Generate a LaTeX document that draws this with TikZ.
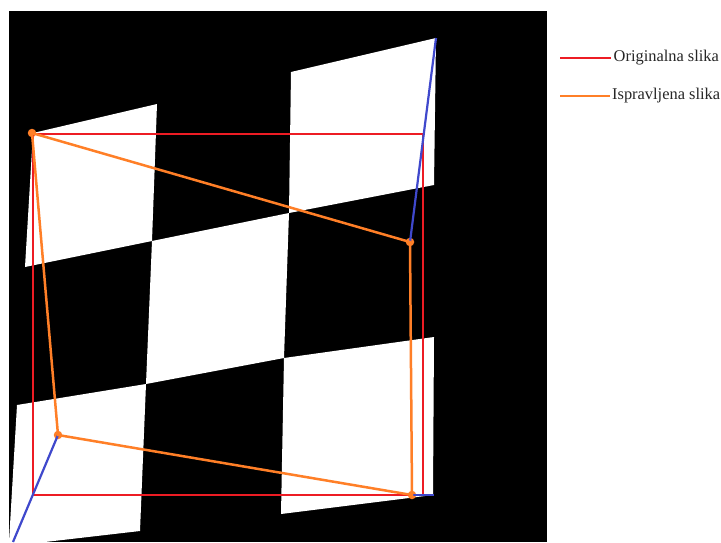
\documentclass[tikz,border=0pt]{standalone}
\usepackage{fontspec}
\setmainfont{Liberation Serif}
\usepackage{xcolor}
\usetikzlibrary{positioning, calc}
\definecolor{linered}{RGB}{237,28,36}
\definecolor{lineorange}{RGB}{255,127,39}
\definecolor{lineblue}{RGB}{63,72,204}
\tikzstyle{whitefield} = [fill=white, draw=none]
\tikzstyle{original} = [draw=linered, line width=2.8pt]
\tikzstyle{corrected} = [draw=lineorange, line width=2.5pt]
\tikzstyle{cornershift} = [draw=lineblue, line width=2.2pt]
\tikzstyle{cornerdot} = [circle, fill=lineorange, inner sep=0pt, minimum size=8.5pt]
\tikzstyle{legendtext} = [font=\fontsize{16.4}{18}\selectfont, inner sep=0pt, anchor=west, text=black!85]

\begin{document}
\begin{tikzpicture}[x=1pt, y=-1pt]
    \useasboundingbox (0,0) rectangle (721,542);

    % === BACKGROUND: Image and white fields ===
    \fill[black] (9,11) rectangle (547,542);
    \fill[whitefield] (33,133) -- (157,104) -- (152,241) -- (25,267) -- cycle;
    \fill[whitefield] (291,72) -- (436,38) -- (434,185) -- (289,213) -- cycle;
    \fill[whitefield] (152,241) -- (289,213) -- (284,358) -- (146,384) -- cycle;
    \fill[whitefield] (17,405) -- (146,384) -- (140,531) -- (45,542) -- (9,542) -- cycle;
    \fill[whitefield] (284,358) -- (434,337) -- (433,495) -- (281,514) -- cycle;

    % === Corners ===
    \coordinate (redtl) at (33,134);
    \coordinate (redtr) at (423,134);
    \coordinate (redbr) at (423,495);
    \coordinate (redbl) at (33,495);
    \coordinate (bluetr) at (436,38);
    \coordinate (bluebr) at (434,495);
    \coordinate (bluebl) at (13,542);
    \node[cornerdot] (dottl) at (32,133) {};
    \node[cornerdot] (dottr) at (410,242) {};
    \node[cornerdot] (dotbr) at (412,495) {};
    \node[cornerdot] (dotbl) at (58,435) {};

    % ===== LINES =====
    % Original image
    \draw[original] (redtl) -- (redtr) -- (redbr) -- (redbl) -- cycle;

    % Shift of each corner
    \draw[cornershift] (dotbl.center) -- (bluebl);
    \draw[cornershift] (dottr.center) -- (bluetr);
    \draw[cornershift] (dotbr.center) -- (bluebr);

    % Corrected image
    \draw[corrected] (dottl.center) -- (dottr.center) -- (dotbr.center) -- (dotbl.center) -- cycle;

    % ===== LEGEND =====
    \node[legendtext] (legendred) at (613.5,58) {Originalna slika};
    \node[legendtext] (legendorange) at (612,96) {Ispravljena slika};
    \coordinate (startred) at (560,58);
    \coordinate (startorange) at (560,96);
    \draw[original] (startred) -- ([xshift=-3pt]legendred.west);
    \draw[corrected] (startorange) -- ([xshift=-2pt]legendorange.west);
\end{tikzpicture}
\end{document}
